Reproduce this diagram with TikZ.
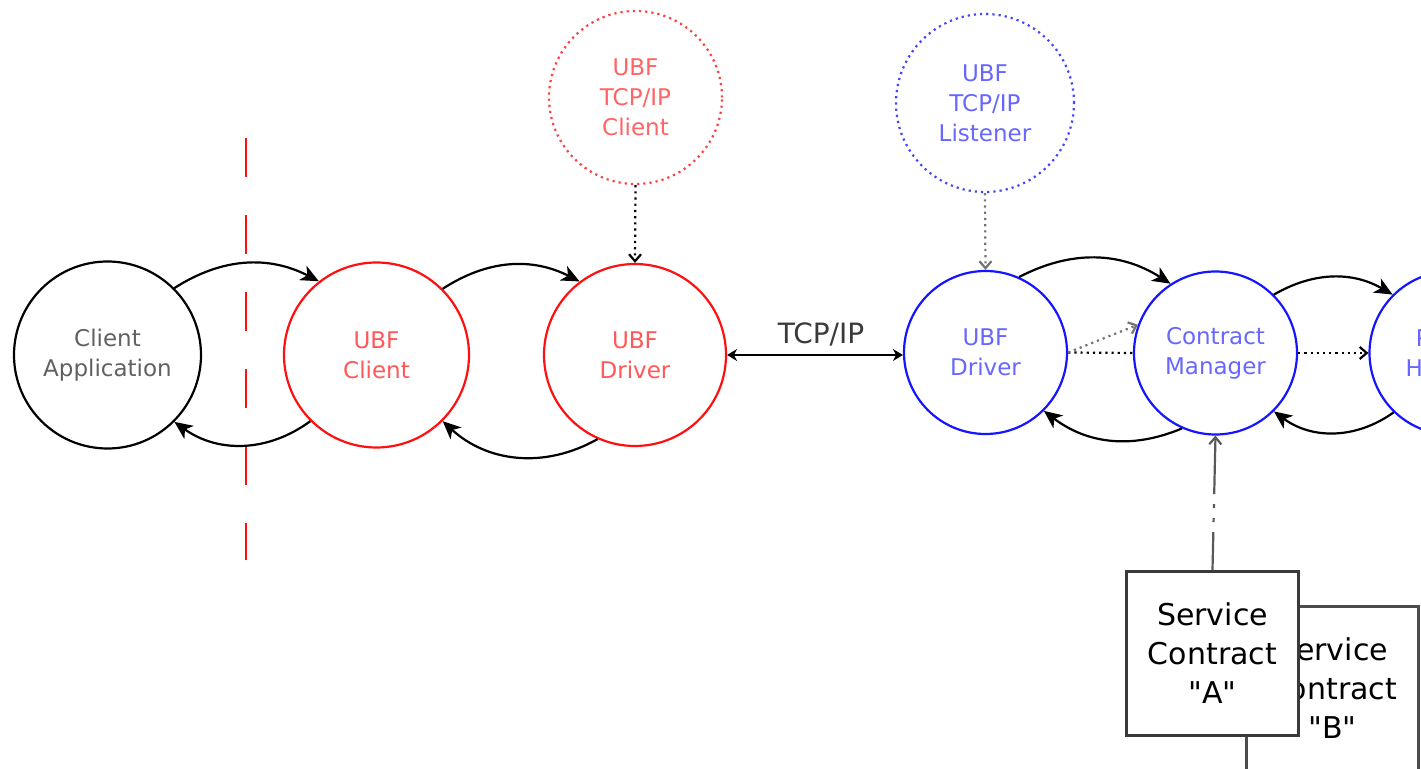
\documentclass[tikz,border=0pt]{standalone}
\usepackage{fontspec}
\setmainfont{DejaVu Sans}[Ligatures=TeXOff]
\usepackage{tikz}
\usetikzlibrary{arrows.meta,positioning}
\usepackage{xcolor}
\definecolor{mred}{HTML}{FF1010}
\definecolor{mblue}{HTML}{1515FF}
\definecolor{mgrey}{HTML}{3A3A3A}
\tikzstyle{proc}=[circle, draw=black, line width=1.1, inner sep=0pt, align=center, font=\fontsize{11.5}{15}\selectfont]
\tikzstyle{contract}=[rectangle, draw=mgrey, line width=1.4, fill=white, minimum width=86pt, minimum height=82pt, align=center, font=\fontsize{15}{19.5}\selectfont]
\tikzstyle{l1}=[line width=1.1]
\tikzstyle{flow}=[l1, -{Stealth[length=9pt,width=8pt,inset=2.5pt]}]
\tikzstyle{dotflow}=[l1, dotted, -{Straight Barb[length=3.5pt,width=6pt]}]

\begin{document}
\begin{tikzpicture}[x=0.5pt, y=0.5pt]
    \useasboundingbox (0,0) rectangle (1421,-769);
    \clip (0,0) rectangle (1421,-769);

    \node[proc, minimum size=93.5pt, text=mgrey!80] at (107.5,-355) (ca) {Client\\Application};
    \node[proc, minimum size=92.5pt, draw=mred, text=mred!70] at (376.5,-355) (uc) {UBF\\Client};
    \node[proc, minimum size=91pt, draw=mred, text=mred!70] at (635,-355) (rd) {UBF\\Driver};
    \node[proc, minimum size=86.5pt, draw=mred!80, dotted, text=mred!65] at (635.5,-97.5) (rt) {UBF\\TCP/IP\\Client};
    \node[proc, minimum size=89pt, draw=mblue!80, dotted, text=mblue!65] at (985,-103) (bt) {UBF\\TCP/IP\\Listener};
    \node[proc, minimum size=81.5pt, draw=mblue, text=mblue!65] at (985.5,-352.5) (bd) {UBF\\Driver};
    \node[proc, minimum size=81.5pt, draw=mblue, text=mblue!65] at (1215.5,-353) (cm) {Contract\\Manager};
    \node[proc, minimum size=81.5pt, draw=mblue, text=mblue!65] at (1451,-353) (ph) {Plugin\\Handler};

    \node[contract, draw=black!70] at (1332.5,-688.5) (sb) {Service\\Contract\\"B"};
    \node[contract] at (1212.5,-653.5) (sa) {Service\\Contract\\"A"};

    % client side
    \draw[l1, mred, dash pattern=on 19.5pt off 19pt] (246,-138) -- (246,-560);
    \draw[flow] (ca.45) to[bend left=30] (uc.128);
    \draw[flow] (uc.-135) to[bend left=36] (ca.-45);
    \draw[flow] (uc.45) to[bend left=30] (rd.127);
    \draw[flow] (rd.-114) to[bend left=36] (uc.-45);
    \draw[dotflow] (rt.south) -- (rd.north);

    \draw[l1, {Stealth[length=5pt,width=6pt]}-{Stealth[length=5pt,width=6pt]}] (rd.east) -- (rd.east -| bd.west);
    \node[font=\fontsize{14}{16}\selectfont, text=mgrey] at (821,-334) (tcp) {TCP/IP};

    % server side
    \draw[dotflow, black!55] (bt.south) -- (bd.north);
    \draw[flow] (bd.66) to[bend left=30] (cm.123);
    \draw[flow] (cm.-114) to[bend left=30] (bd.-45);
    \draw[l1, dotted] (bd.east) -- (cm.west);
    \draw[dotflow, black!55] (bd.east) -- (cm.160);
    \draw[flow] (cm.45) to[bend left=30] (ph.135);
    \draw[flow] (ph.-134) to[bend left=36] (cm.-45);
    \draw[dotflow] (cm.east) -- (ph.west);
    \draw[l1, black!65, dash pattern=on 19pt off 5pt on 2pt off 5pt on 2pt off 5pt on 60pt, -{Straight Barb[length=3.5pt,width=6pt]}] (sa.north) -- (cm.south);
\end{tikzpicture}
\end{document}
